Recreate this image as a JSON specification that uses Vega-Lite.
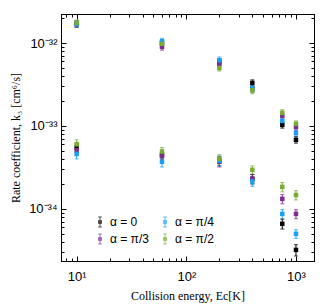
{
  "$schema": "https://vega.github.io/schema/vega-lite/v6.json",
  "width": 253,
  "height": 247,
  "autosize": {"type": "none"},
  "padding": {"left": 61, "top": 14, "right": 14, "bottom": 45},
  "background": "white",
  "config": {
    "view": {"stroke": "black", "strokeWidth": 1},
    "axis": {"domainColor": "black", "tickColor": "black", "grid": false, "labelColor": "black", "titleColor": "black", "labelFont": "Liberation Sans", "labelFontSize": 13, "titleFont": "Liberation Serif", "titleFontSize": 12, "titleFontWeight": "normal", "labelOverlap": false, "labelFlush": false}
  },
  "data": {"values": [
    {"E": 10, "k": 1.7e-32, "lo": 1.55e-32, "hi": 1.85e-32, "a": "α = 0"},
    {"E": 10, "k": 5.5e-34, "lo": 4.8e-34, "hi": 6.2e-34, "a": "α = 0"},
    {"E": 60, "k": 1.0e-32, "lo": 9.1e-33, "hi": 1.09e-32, "a": "α = 0"},
    {"E": 60, "k": 4.5e-34, "lo": 3.9e-34, "hi": 5.1e-34, "a": "α = 0"},
    {"E": 200, "k": 6.0e-33, "lo": 5.5e-33, "hi": 6.5e-33, "a": "α = 0"},
    {"E": 200, "k": 3.8e-34, "lo": 3.3e-34, "hi": 4.3e-34, "a": "α = 0"},
    {"E": 400, "k": 3.3e-33, "lo": 3.0e-33, "hi": 3.6e-33, "a": "α = 0"},
    {"E": 400, "k": 2.3e-34, "lo": 2.0e-34, "hi": 2.6e-34, "a": "α = 0"},
    {"E": 750, "k": 1.03e-33, "lo": 9.4e-34, "hi": 1.12e-33, "a": "α = 0"},
    {"E": 750, "k": 6.6e-35, "lo": 5.7e-35, "hi": 7.5e-35, "a": "α = 0"},
    {"E": 1000, "k": 6.8e-34, "lo": 6.2e-34, "hi": 7.4e-34, "a": "α = 0"},
    {"E": 1000, "k": 3.2e-35, "lo": 2.7e-35, "hi": 3.7e-35, "a": "α = 0"},
    {"E": 10, "k": 1.7e-32, "lo": 1.55e-32, "hi": 1.85e-32, "a": "α = π/3"},
    {"E": 10, "k": 5.1e-34, "lo": 4.4e-34, "hi": 5.8e-34, "a": "α = π/3"},
    {"E": 60, "k": 9.0e-33, "lo": 8.2e-33, "hi": 9.8e-33, "a": "α = π/3"},
    {"E": 60, "k": 4.3e-34, "lo": 3.7e-34, "hi": 4.9e-34, "a": "α = π/3"},
    {"E": 200, "k": 5.6e-33, "lo": 5.1e-33, "hi": 6.1e-33, "a": "α = π/3"},
    {"E": 200, "k": 3.7e-34, "lo": 3.2e-34, "hi": 4.2e-34, "a": "α = π/3"},
    {"E": 400, "k": 2.8e-33, "lo": 2.55e-33, "hi": 3.05e-33, "a": "α = π/3"},
    {"E": 400, "k": 2.3e-34, "lo": 2.0e-34, "hi": 2.6e-34, "a": "α = π/3"},
    {"E": 750, "k": 1.32e-33, "lo": 1.2e-33, "hi": 1.44e-33, "a": "α = π/3"},
    {"E": 750, "k": 1.32e-34, "lo": 1.15e-34, "hi": 1.49e-34, "a": "α = π/3"},
    {"E": 1000, "k": 9.7e-34, "lo": 8.8e-34, "hi": 1.06e-33, "a": "α = π/3"},
    {"E": 1000, "k": 8.7e-35, "lo": 7.6e-35, "hi": 9.8e-35, "a": "α = π/3"},
    {"E": 10, "k": 1.7e-32, "lo": 1.55e-32, "hi": 1.85e-32, "a": "α = π/4"},
    {"E": 10, "k": 4.6e-34, "lo": 4.0e-34, "hi": 5.2e-34, "a": "α = π/4"},
    {"E": 60, "k": 1.05e-32, "lo": 9.6e-33, "hi": 1.14e-32, "a": "α = π/4"},
    {"E": 60, "k": 3.7e-34, "lo": 3.2e-34, "hi": 4.2e-34, "a": "α = π/4"},
    {"E": 200, "k": 6.2e-33, "lo": 5.6e-33, "hi": 6.8e-33, "a": "α = π/4"},
    {"E": 200, "k": 3.8e-34, "lo": 3.3e-34, "hi": 4.3e-34, "a": "α = π/4"},
    {"E": 400, "k": 2.85e-33, "lo": 2.6e-33, "hi": 3.1e-33, "a": "α = π/4"},
    {"E": 400, "k": 2.15e-34, "lo": 1.87e-34, "hi": 2.43e-34, "a": "α = π/4"},
    {"E": 750, "k": 1.15e-33, "lo": 1.05e-33, "hi": 1.25e-33, "a": "α = π/4"},
    {"E": 750, "k": 8.7e-35, "lo": 7.6e-35, "hi": 9.8e-35, "a": "α = π/4"},
    {"E": 1000, "k": 8.2e-34, "lo": 7.5e-34, "hi": 8.9e-34, "a": "α = π/4"},
    {"E": 1000, "k": 5.0e-35, "lo": 4.4e-35, "hi": 5.6e-35, "a": "α = π/4"},
    {"E": 10, "k": 1.75e-32, "lo": 1.6e-32, "hi": 1.9e-32, "a": "α = π/2"},
    {"E": 10, "k": 6.0e-34, "lo": 5.2e-34, "hi": 6.8e-34, "a": "α = π/2"},
    {"E": 60, "k": 9.8e-33, "lo": 8.9e-33, "hi": 1.07e-32, "a": "α = π/2"},
    {"E": 60, "k": 4.9e-34, "lo": 4.3e-34, "hi": 5.5e-34, "a": "α = π/2"},
    {"E": 200, "k": 5.0e-33, "lo": 4.6e-33, "hi": 5.4e-33, "a": "α = π/2"},
    {"E": 200, "k": 4.0e-34, "lo": 3.5e-34, "hi": 4.5e-34, "a": "α = π/2"},
    {"E": 400, "k": 2.7e-33, "lo": 2.45e-33, "hi": 2.95e-33, "a": "α = π/2"},
    {"E": 400, "k": 2.95e-34, "lo": 2.6e-34, "hi": 3.3e-34, "a": "α = π/2"},
    {"E": 750, "k": 1.44e-33, "lo": 1.31e-33, "hi": 1.57e-33, "a": "α = π/2"},
    {"E": 750, "k": 1.84e-34, "lo": 1.6e-34, "hi": 2.08e-34, "a": "α = π/2"},
    {"E": 1000, "k": 1.06e-33, "lo": 9.7e-34, "hi": 1.15e-33, "a": "α = π/2"},
    {"E": 1000, "k": 1.47e-34, "lo": 1.28e-34, "hi": 1.66e-34, "a": "α = π/2"}
  ]},
  "layer": [
    {
      "mark": {"type": "errorbar", "ticks": {"size": 4, "thickness": 1}, "thickness": 1},
      "encoding": {
        "x": {"field": "E", "type": "quantitative", "scale": {"type": "log", "domain": [7.2, 1460], "nice": false}, "axis": null},
        "y": {"field": "lo", "type": "quantitative", "scale": {"type": "log", "domain": [2.35e-35, 2.24e-32], "nice": false}, "axis": null},
        "y2": {"field": "hi"},
        "color": {"field": "a", "type": "nominal",
          "scale": {"domain": ["α = 0", "α = π/3", "α = π/4", "α = π/2"], "range": ["#000000", "#7e2f8e", "#1a9ff5", "#77ac30"]}}
      }
    },
    {
      "mark": {"type": "square", "size": 20, "opacity": 1, "filled": true},
      "encoding": {
        "x": {"field": "E", "type": "quantitative",
          "axis": {"orient": "bottom", "title": "Collision energy, Ec[K]", "titlePadding": 5,
            "values": [8, 9, 10, 20, 30, 40, 50, 60, 70, 80, 90, 100, 200, 300, 400, 500, 600, 700, 800, 900, 1000],
            "tickSize": {"condition": {"test": "datum.value == 10 || datum.value == 100 || datum.value == 1000", "value": -5}, "value": -3},
            "labelPadding": 14,
            "labelExpr": "datum.value == 10 ? '10¹' : datum.value == 100 ? '10²' : datum.value == 1000 ? '10³' : ''"}},
        "y": {"field": "k", "type": "quantitative",
          "axis": {"orient": "left", "title": "Rate coefficient, k₃ [cm⁶/s]", "titlePadding": 6,
            "values": [3e-35, 4e-35, 5e-35, 6e-35, 7e-35, 8e-35, 9e-35, 1e-34, 2e-34, 3e-34, 4e-34, 5e-34, 6e-34, 7e-34, 8e-34, 9e-34, 1e-33, 2e-33, 3e-33, 4e-33, 5e-33, 6e-33, 7e-33, 8e-33, 9e-33, 1e-32, 2e-32],
            "tickSize": {"condition": {"test": "abs(log(datum.value)/LN10 - round(log(datum.value)/LN10)) < 0.001", "value": -5}, "value": -3},
            "labelPadding": 9,
            "labelExpr": "abs(log(datum.value)/LN10 - round(log(datum.value)/LN10)) < 0.001 ? (datum.value > 5e-33 ? '10⁻³²' : datum.value > 5e-34 ? '10⁻³³' : '10⁻³⁴') : ''"}},
        "color": {"field": "a", "type": "nominal",
          "scale": {"domain": ["α = 0", "α = π/3", "α = π/4", "α = π/2"], "range": ["#000000", "#7e2f8e", "#1a9ff5", "#77ac30"]},
          "legend": {"orient": "none", "legendX": 33, "legendY": 202, "columns": 2, "title": null,
            "values": ["α = 0", "α = π/3", "α = π/4", "α = π/2"],
            "symbolType": "M-0.3,-0.3H0.3V0.3H-0.3Z M0,-1V1 M-0.35,-1H0.35 M-0.35,1H0.35",
            "symbolSize": 100, "symbolStrokeWidth": 1, "labelFont": "Liberation Sans", "labelFontSize": 12,
            "columnPadding": 10, "rowPadding": 3, "labelColor": "black"}}
      }
    },
    {
      "mark": {"type": "square", "size": 16, "opacity": 0},
      "encoding": {
        "x": {"field": "E", "type": "quantitative",
          "axis": {"orient": "top", "title": null, "labels": false,
            "values": [8, 9, 10, 20, 30, 40, 50, 60, 70, 80, 90, 100, 200, 300, 400, 500, 600, 700, 800, 900, 1000],
            "tickSize": {"condition": {"test": "datum.value == 10 || datum.value == 100 || datum.value == 1000", "value": -5}, "value": -3}}},
        "y": {"field": "k", "type": "quantitative",
          "axis": {"orient": "right", "title": null, "labels": false,
            "values": [3e-35, 4e-35, 5e-35, 6e-35, 7e-35, 8e-35, 9e-35, 1e-34, 2e-34, 3e-34, 4e-34, 5e-34, 6e-34, 7e-34, 8e-34, 9e-34, 1e-33, 2e-33, 3e-33, 4e-33, 5e-33, 6e-33, 7e-33, 8e-33, 9e-33, 1e-32, 2e-32],
            "tickSize": {"condition": {"test": "abs(log(datum.value)/LN10 - round(log(datum.value)/LN10)) < 0.001", "value": -5}, "value": -3}}}
      }
    }
  ],
  "resolve": {"axis": {"x": "independent", "y": "independent"}}
}
